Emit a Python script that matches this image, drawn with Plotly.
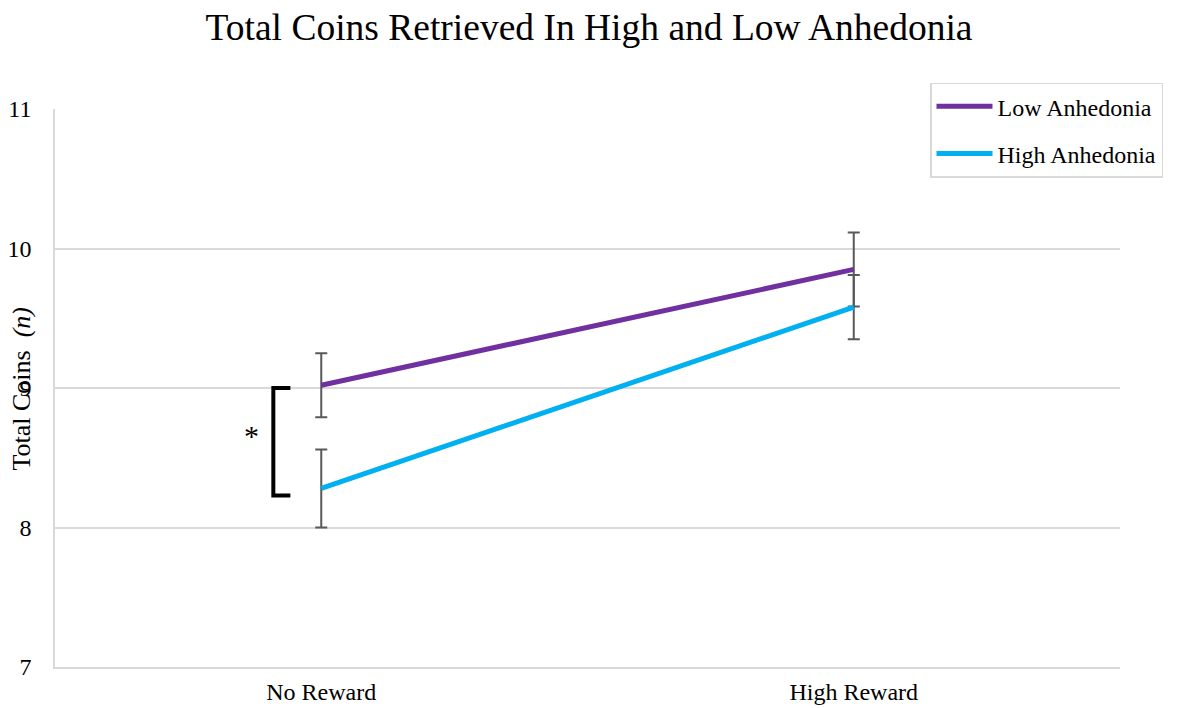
import plotly.graph_objects as go

# Task conditions and group means with their error bars
conditions = ["No Reward", "High Reward"]
low_anhedonia = [9.02, 9.85]
low_anhedonia_err = [0.23, 0.265]
high_anhedonia = [8.28, 9.58]
high_anhedonia_err = [0.28, 0.23]

# Significance bracket between the groups at No Reward
bracket_top = 9.0
bracket_bottom = 8.23
star_y = 8.66

y_ticks = [7, 8, 9, 10, 11]

serif = "Liberation Serif, Times New Roman, serif"
err_color = "#595959"

fig = go.Figure()
fig.add_trace(go.Scatter(
    x=conditions, y=low_anhedonia, mode="lines", name="Low Anhedonia",
    legendgroup="low",
    line=dict(color="#7030a0", width=5),
    error_y=dict(type="data", array=low_anhedonia_err, visible=True,
                 color=err_color, thickness=2, width=6),
))
fig.add_trace(go.Scatter(
    x=conditions, y=high_anhedonia, mode="lines", name="High Anhedonia",
    legendgroup="high",
    line=dict(color="#00b0f0", width=5),
    error_y=dict(type="data", array=high_anhedonia_err, visible=True,
                 color=err_color, thickness=2, width=6),
))

# bracket marking the significant difference
fig.add_shape(
    type="path", xref="x", yref="y",
    path=f"M -0.058,{bracket_top} L -0.09,{bracket_top} L -0.09,{bracket_bottom} L -0.058,{bracket_bottom}",
    line=dict(color="black", width=4),
)
fig.add_annotation(x=-0.131, y=star_y, xref="x", yref="y", text="*",
                   showarrow=False, font=dict(family=serif, size=30, color="black"))

# y-axis title
fig.add_annotation(x=-0.031, y=0.499, xref="paper", yref="paper",
                   text="Total Coins  <i>(n)</i>", textangle=-90, showarrow=False,
                   xanchor="center", yanchor="middle",
                   font=dict(family=serif, size=26, color="black"))

fig.update_layout(
    width=1178, height=708,
    margin=dict(l=55, r=58, t=109, b=41),
    paper_bgcolor="white", plot_bgcolor="white",
    title=dict(text="Total Coins Retrieved In High and Low Anhedonia",
               x=0.5, xanchor="center", y=0.962, yanchor="middle",
               font=dict(family=serif, size=37.5, color="black")),
    font=dict(family=serif, size=24, color="black"),
    showlegend=True,
    legend=dict(x=0.8216, y=1.047, xanchor="left", yanchor="top",
                bordercolor="#d9d9d9", borderwidth=1.5, bgcolor="white",
                font=dict(family=serif, size=24, color="black"),
                itemwidth=56,
                traceorder="grouped", tracegroupgap=13),
    xaxis=dict(type="category", range=[-0.5, 1.5], showgrid=False,
               showline=True, linecolor="#d9d9d9", linewidth=1.5,
               ticks="", ticklabelstandoff=2, automargin=False,
               tickfont=dict(family=serif, size=24, color="black")),
    yaxis=dict(range=[7, 11], tickvals=y_ticks, showgrid=True,
               gridcolor="#d9d9d9", gridwidth=1.5, zeroline=False,
               showline=True, linecolor="#d9d9d9", linewidth=1.5,
               ticks="", ticklabelstandoff=17, automargin=False,
               tickfont=dict(family=serif, size=24, color="black")),
)

fig.write_html("out.html")
